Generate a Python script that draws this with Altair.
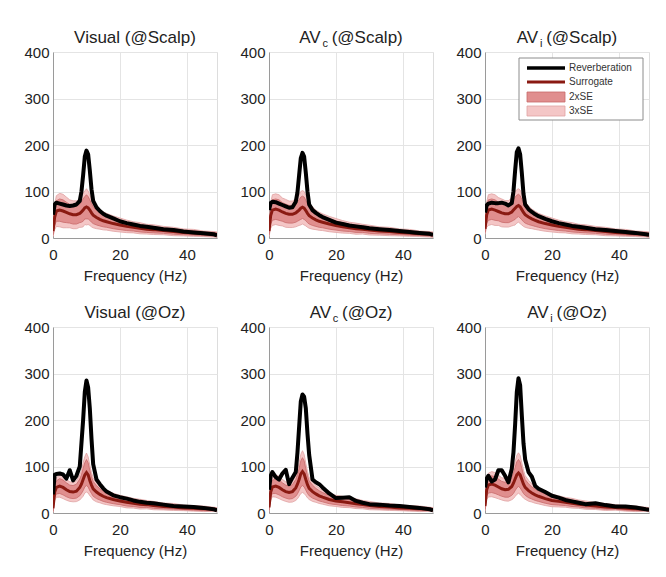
import altair as alt
import pandas as pd

# ---------------- data ----------------
FREQ = [0, 0.5, 1, 2, 3, 4, 5, 6, 7, 8, 8.5, 9, 9.5, 10, 10.5, 11, 11.5, 12, 13, 14,
        15, 16, 18, 20, 22, 24, 26, 28, 30, 33, 36, 39, 42, 45, 48, 49]

# Visual (@Scalp)
REV_1 = [50, 72, 76, 74, 72, 70, 69, 70, 72, 80, 100, 135, 175, 188, 180, 145, 105, 80, 66, 58,
         52, 48, 42, 36, 32, 29, 26, 24, 22, 19, 17, 14, 12, 10, 8, 6]
SUR_1 = [15, 45, 58, 60, 58, 55, 52, 50, 50, 53, 56, 60, 65, 67, 65, 60, 54, 49, 44, 40,
         37, 35, 31, 28, 25, 23, 21, 19, 18, 16, 14, 12, 11, 9, 8, 7]
SE_1 = [4, 9, 11, 12, 12, 11, 10, 10, 10, 10, 11, 12, 12, 13, 12, 11, 10, 9, 8, 7,
        6.5, 6, 5.5, 5, 4.5, 4, 4, 3.5, 3.5, 3, 3, 2.5, 2.5, 2, 2, 2]
# AVc (@Scalp)
REV_2 = [60, 75, 78, 77, 74, 71, 68, 65, 66, 78, 98, 135, 172, 183, 175, 140, 100, 72, 60, 54,
         49, 45, 39, 33, 30, 27, 25, 23, 21, 19, 17, 15, 13, 11, 9, 7]
SUR_2 = [15, 48, 60, 62, 60, 56, 53, 51, 51, 54, 57, 60, 64, 66, 64, 59, 53, 48, 43, 39,
         36, 34, 30, 27, 24, 22, 20, 19, 17, 15, 14, 12, 11, 9, 8, 7]
SE_2 = [4, 9, 11, 11, 11, 10, 10, 9.5, 9.5, 10, 10.5, 11, 12, 12, 12, 11, 10, 9, 8, 7,
        6.5, 6, 5.5, 5, 4.5, 4, 4, 3.5, 3.5, 3, 3, 2.5, 2.5, 2, 2, 2]
# AVi (@Scalp)
REV_3 = [55, 70, 74, 76, 75, 75, 76, 74, 70, 75, 100, 145, 185, 193, 180, 140, 95, 72, 62, 56,
         51, 47, 41, 36, 32, 29, 26, 24, 22, 19, 17, 15, 13, 11, 8, 7]
SUR_3 = [20, 50, 60, 62, 60, 57, 54, 52, 52, 56, 60, 64, 68, 70, 67, 61, 55, 50, 45, 41,
         38, 35, 31, 28, 25, 23, 21, 19, 18, 16, 14, 12, 11, 9, 8, 7]
SE_3 = [4, 9, 11, 11, 11, 10, 10, 9.5, 9.5, 10, 11, 12, 12, 12, 12, 11, 10, 9, 8, 7,
        6.5, 6, 5.5, 5, 4.5, 4, 4, 3.5, 3.5, 3, 3, 2.5, 2.5, 2, 2, 2]
# Visual (@Oz)
REV_4 = [40, 82, 84, 85, 83, 74, 92, 70, 80, 100, 150, 200, 260, 285, 270, 225, 160, 105, 72, 62,
         53, 46, 38, 34, 31, 27, 24, 22, 21, 18, 15, 14, 13, 11, 8, 6]
SUR_4 = [10, 45, 55, 58, 55, 50, 46, 45, 47, 55, 62, 72, 82, 87, 82, 70, 60, 52, 45, 40,
         36, 33, 29, 26, 23, 21, 19, 18, 16, 14, 13, 11, 10, 9, 8, 7]
SE_4 = [3, 6, 7, 8, 8, 7.5, 7, 7, 7.5, 9, 10, 12, 13, 14, 13, 11, 9, 8, 7, 6,
        5.5, 5, 4.5, 4, 4, 3.5, 3.5, 3, 3, 2.5, 2.5, 2, 2, 2, 1.5, 1.5]
# AVc (@Oz)
REV_5 = [50, 80, 88, 77, 72, 85, 93, 62, 76, 88, 130, 185, 240, 255, 250, 225, 170, 125, 72, 66,
         62, 55, 42, 32, 33, 34, 26, 22, 19, 18, 16, 15, 13, 11, 8, 6]
SUR_5 = [12, 45, 56, 58, 55, 50, 46, 44, 46, 54, 62, 72, 84, 89, 84, 72, 61, 53, 46, 41,
         37, 34, 29, 26, 24, 22, 20, 18, 16, 14, 13, 11, 10, 9, 8, 7]
SE_5 = [3, 6, 7, 8, 8, 7.5, 7, 7, 7.5, 9, 10.5, 12, 14, 15, 14, 11.5, 9.5, 8, 7, 6,
        5.5, 5, 4.5, 4, 4, 3.5, 3.5, 3, 3, 2.5, 2.5, 2, 2, 2, 1.5, 1.5]
# AVi (@Oz)
REV_6 = [55, 74, 80, 68, 72, 92, 92, 80, 66, 95, 130, 190, 260, 290, 275, 210, 150, 115, 88, 78,
         58, 52, 45, 37, 33, 28, 25, 22, 19, 21, 17, 14, 14, 12, 8, 7]
SUR_6 = [15, 50, 60, 62, 60, 56, 52, 50, 51, 57, 64, 73, 82, 86, 82, 72, 62, 55, 48, 43,
         39, 36, 31, 27, 25, 23, 21, 19, 17, 15, 13, 12, 10, 9, 8, 7]
SE_6 = [3.5, 7, 8.5, 9, 9, 8.5, 8, 8, 8.5, 9.5, 11, 12.5, 14, 14.5, 14, 12, 10, 8.5, 7.5, 6.5,
        6, 5.5, 5, 4.5, 4, 3.5, 3.5, 3, 3, 2.5, 2.5, 2, 2, 2, 1.5, 1.5]

# title pieces: (main, subscript, suffix)
TITLES = [("Visual", "", "(@Scalp)"), ("AV", "c", "(@Scalp)"), ("AV", "i", "(@Scalp)"),
          ("Visual", "", "(@Oz)"), ("AV", "c", "(@Oz)"), ("AV", "i", "(@Oz)")]
SERIES = [(REV_1, SUR_1, SE_1), (REV_2, SUR_2, SE_2), (REV_3, SUR_3, SE_3),
          (REV_4, SUR_4, SE_4), (REV_5, SUR_5, SE_5), (REV_6, SUR_6, SE_6)]
LEGEND_LABELS = ["Reverberation", "Surrogate", "2xSE", "3xSE"]

X_TICKS = [0, 20, 40]
Y_TICKS = [0, 100, 200, 300, 400]

# ---------------- style ----------------
W, H = 164, 186
FONT = "Liberation Sans"
TXT = "#222222"
C_REV = "#000000"
C_SUR = "#8a1a12"
C_2SE = "#e08e8e"
C_2SE_EDGE = "#c86a6a"
C_3SE = "#f4c6c6"
C_3SE_EDGE = "#e0a2a2"

CHAR_W = {'A': .667, 'V': .667, 'i': .222, 's': .5, 'u': .556, 'a': .556, 'l': .222,
          ' ': .278, '(': .333, ')': .333, '@': 1.015, 'S': .667, 'c': .5, 'p': .556,
          'O': .778, 'z': .5}


def tw(s, size):
    return sum(CHAR_W.get(ch, .55) for ch in s) * size


TITLE_SIZE = 17
SUB_SIZE = 11
one = pd.DataFrame({"k": [0]})

xax = alt.Axis(values=X_TICKS, grid=True, gridColor="#e4e4e4", domainColor="#9a9a9a",
               ticks=False, labelFontSize=15, labelColor=TXT, labelFont=FONT,
               titleFontSize=15, titleFontWeight="normal", titleColor=TXT, titleFont=FONT,
               labelPadding=9, titlePadding=6, labelFlush=False)
yax = alt.Axis(values=Y_TICKS, grid=True, gridColor="#e4e4e4", domainColor="#9a9a9a",
               ticks=False, labelFontSize=15, labelColor=TXT, labelFont=FONT,
               labelPadding=4, labelFlush=False)
xsc = alt.Scale(domain=[0, 49], nice=False, zero=False)
ysc = alt.Scale(domain=[0, 400], nice=False)


def title_layers(main, sub, suffix):
    cx = W / 2
    layers = []
    base_y = -9
    if not sub:
        layers.append(alt.Chart(one).mark_text(
            align="center", baseline="alphabetic", fontSize=TITLE_SIZE, font=FONT, color=TXT
        ).encode(x=alt.value(cx), y=alt.value(base_y), text=alt.value(f"{main} {suffix}")))
    else:
        w_main = tw(main, TITLE_SIZE)
        w_sub = tw(sub, SUB_SIZE)
        gap = 0.5
        w_space = 0.22 * TITLE_SIZE
        w_suf = tw(suffix, TITLE_SIZE)
        total = w_main + gap + w_sub + w_space + w_suf
        x0 = cx - total / 2
        layers.append(alt.Chart(one).mark_text(
            align="left", baseline="alphabetic", fontSize=TITLE_SIZE, font=FONT, color=TXT
        ).encode(x=alt.value(x0), y=alt.value(base_y), text=alt.value(main)))
        layers.append(alt.Chart(one).mark_text(
            align="left", baseline="alphabetic", fontSize=SUB_SIZE, font=FONT, color=TXT
        ).encode(x=alt.value(x0 + w_main + gap), y=alt.value(base_y + 4), text=alt.value(sub)))
        layers.append(alt.Chart(one).mark_text(
            align="left", baseline="alphabetic", fontSize=TITLE_SIZE, font=FONT, color=TXT
        ).encode(x=alt.value(x0 + w_main + gap + w_sub + w_space),
                 y=alt.value(base_y), text=alt.value(suffix)))
    return layers


def legend_layers():
    lx0, lx1, ly0, ly1 = 34, 158, 6, 68
    rows = [16, 30, 45, 59]
    layers = [alt.Chart(one).mark_rect(fill="white", stroke="#8c8c8c", strokeWidth=1).encode(
        x=alt.value(lx0), x2=alt.value(lx1), y=alt.value(ly0), y2=alt.value(ly1))]
    layers.append(alt.Chart(one).mark_rule(color=C_REV, strokeWidth=3.5).encode(
        x=alt.value(42), x2=alt.value(80), y=alt.value(rows[0])))
    layers.append(alt.Chart(one).mark_rule(color=C_SUR, strokeWidth=3).encode(
        x=alt.value(42), x2=alt.value(80), y=alt.value(rows[1])))
    layers.append(alt.Chart(one).mark_rect(fill=C_2SE, stroke=C_2SE_EDGE, strokeWidth=0.8).encode(
        x=alt.value(42), x2=alt.value(80), y=alt.value(rows[2] - 5), y2=alt.value(rows[2] + 5)))
    layers.append(alt.Chart(one).mark_rect(fill=C_3SE, stroke=C_3SE_EDGE, strokeWidth=0.8).encode(
        x=alt.value(42), x2=alt.value(80), y=alt.value(rows[3] - 5), y2=alt.value(rows[3] + 5)))
    for lab, ry in zip(LEGEND_LABELS, rows):
        layers.append(alt.Chart(one).mark_text(
            align="left", baseline="middle", fontSize=10, font=FONT, color="#333333"
        ).encode(x=alt.value(84), y=alt.value(ry), text=alt.value(lab)))
    return layers


def panel(i):
    rev, sur, se = SERIES[i]
    df = pd.DataFrame({"f": FREQ, "rev": rev, "sur": sur, "se": se})
    df["lo3"] = (df["sur"] - 3 * df["se"]).clip(lower=0)
    df["hi3"] = df["sur"] + 3 * df["se"]
    df["lo2"] = (df["sur"] - 2 * df["se"]).clip(lower=0)
    df["hi2"] = df["sur"] + 2 * df["se"]
    base = alt.Chart(df)
    X = alt.X("f:Q", scale=xsc, axis=xax, title="Frequency (Hz)")
    band3 = base.mark_area(color=C_3SE, stroke=C_3SE_EDGE, strokeWidth=0.8, clip=True, opacity=1).encode(
        x=X, y=alt.Y("lo3:Q", scale=ysc, axis=yax, title=None), y2="hi3:Q")
    band2 = base.mark_area(color=C_2SE, stroke=C_2SE_EDGE, strokeWidth=0.8, clip=True, opacity=1).encode(
        x=X, y=alt.Y("lo2:Q", scale=ysc, axis=yax, title=None), y2="hi2:Q")
    sline = base.mark_line(color=C_SUR, strokeWidth=3, clip=True).encode(
        x=X, y=alt.Y("sur:Q", scale=ysc, axis=yax, title=None))
    rline = base.mark_line(color=C_REV, strokeWidth=4, clip=True, strokeJoin="round").encode(
        x=X, y=alt.Y("rev:Q", scale=ysc, axis=yax, title=None))
    layers = [band3, band2, sline, rline]
    if i == 2:
        layers += legend_layers()
    layers += title_layers(*TITLES[i])
    return alt.layer(*layers).properties(width=W, height=H)


row1 = alt.hconcat(panel(0), panel(1), panel(2), spacing=21)
row2 = alt.hconcat(panel(3), panel(4), panel(5), spacing=21)
chart = alt.vconcat(row1, row2, spacing=19).properties(
    padding={"left": 15, "top": 20, "right": 5, "bottom": 5}
).configure_view(stroke=None).configure(background="white")

chart.save("out.html", embed_options={"renderer": "svg", "actions": False})
